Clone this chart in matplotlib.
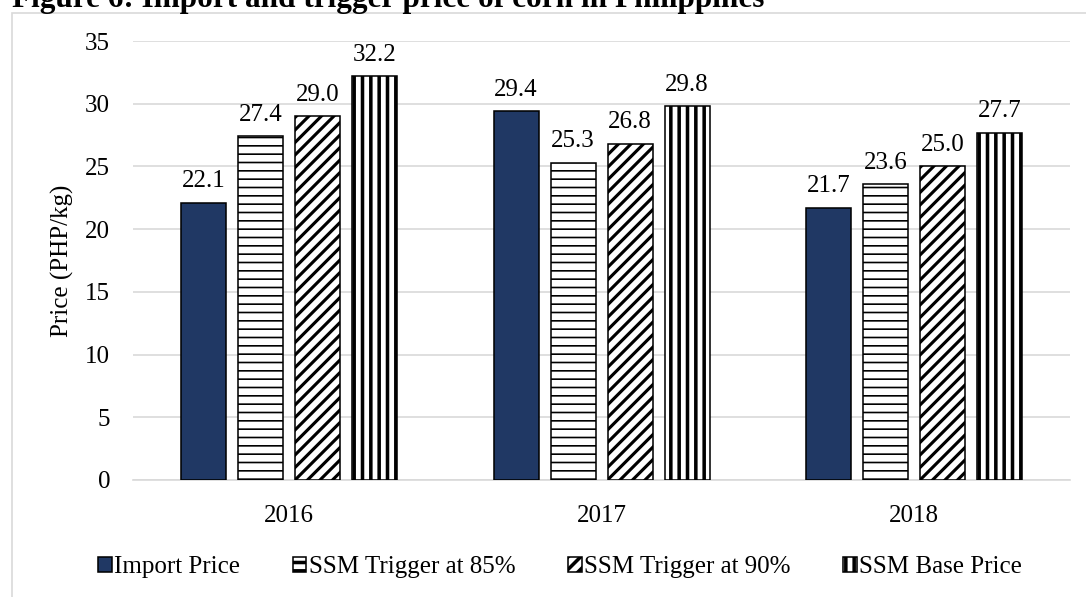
import matplotlib
matplotlib.use("Agg")
import matplotlib.pyplot as plt
from matplotlib.patches import Rectangle
import numpy as np

"""
Dane odczytane z wykresu
"""

years = ["2016", "2017", "2018"]
series_names = ["Import Price", "SSM Trigger at 85%", "SSM Trigger at 90%", "SSM Base Price"]
import_price = [22.1, 29.4, 21.7]
trigger_85 = [27.4, 25.3, 23.6]
trigger_90 = [29.0, 26.8, 25.0]
base_price = [32.2, 29.8, 27.7]
y_ticks = [0, 5, 10, 15, 20, 25, 30, 35]

title = "Figure 6: Import and trigger price of corn in Philippines"
y_label = "Price (PHP/kg)"


def make_plot():
	plt.rcParams["font.family"] = ["Liberation Serif", "DejaVu Serif"]
	plt.rcParams["font.size"] = 12

	fig = plt.figure(figsize=(7.24, 3.98), dpi=150)
	ax = fig.add_axes([0.1225, 0.196, 0.8628, 0.7353])

	values = [import_price, trigger_85, trigger_90, base_price]
	faces = ["#203864", "white", "white", "white"]
	hatches = [None, "---", "////", "|||"]
	hatch_lw = [1.0, 0.8, 1.5, 1.7]

	x = np.arange(len(years))
	width = 0.144
	step = 0.1825
	offsets = (np.arange(4) - 1.5) * step

	handles = []
	for i in range(4):
		plt.rcParams["hatch.linewidth"] = hatch_lw[i]
		bars = ax.bar(x + offsets[i], values[i], width, color=faces[i],
			edgecolor="black", linewidth=0.75, hatch=hatches[i],
			label=series_names[i], zorder=3)
		handles.append(bars)
		for rect, v in zip(bars, values[i]):
			ax.annotate(f"{v:.1f}", (rect.get_x() + rect.get_width() / 2, v),
				xytext=(0, 5), textcoords="offset points",
				ha="center", va="bottom", fontsize=12)

	ax.set_xlim(-0.5, len(years) - 0.5)
	ax.set_ylim(0, 35)
	ax.set_yticks(y_ticks)
	ax.set_xticks(x)
	ax.set_xticklabels(years)
	ax.tick_params(length=0, labelsize=12)
	ax.tick_params(axis="y", pad=11)
	ax.tick_params(axis="x", pad=12)
	ax.yaxis.grid(True, color="#D9D9D9", linewidth=0.8, zorder=0)
	ax.set_axisbelow(True)
	for s in ["top", "right", "left"]:
		ax.spines[s].set_visible(False)
	ax.spines["bottom"].set_color("#D9D9D9")
	ax.spines["bottom"].set_linewidth(0.8)

	fig.text(62 / 1086, 0.5635, y_label, rotation=90, ha="center", va="center", fontsize=12)

	fig.legend(handles=handles, loc="center", bbox_to_anchor=(560 / 1086, 1 - 567 / 597),
		ncol=4, frameon=False, fontsize=12, handlelength=0.55, handleheight=0.55,
		handletextpad=0.1, columnspacing=2.1)

	fig.patches.append(Rectangle((12 / 1086, -0.1), 1.2, 1.1 - 13 / 597,
		transform=fig.transFigure, facecolor="none", edgecolor="#D9D9D9",
		linewidth=0.8, zorder=-1))

	fig.text(12 / 1086, 1 - 7 / 597, title, ha="left", va="baseline",
		fontsize=15, fontweight="bold")

	fig.savefig("out.png", dpi=150)


if __name__ == "__main__":
	make_plot()
